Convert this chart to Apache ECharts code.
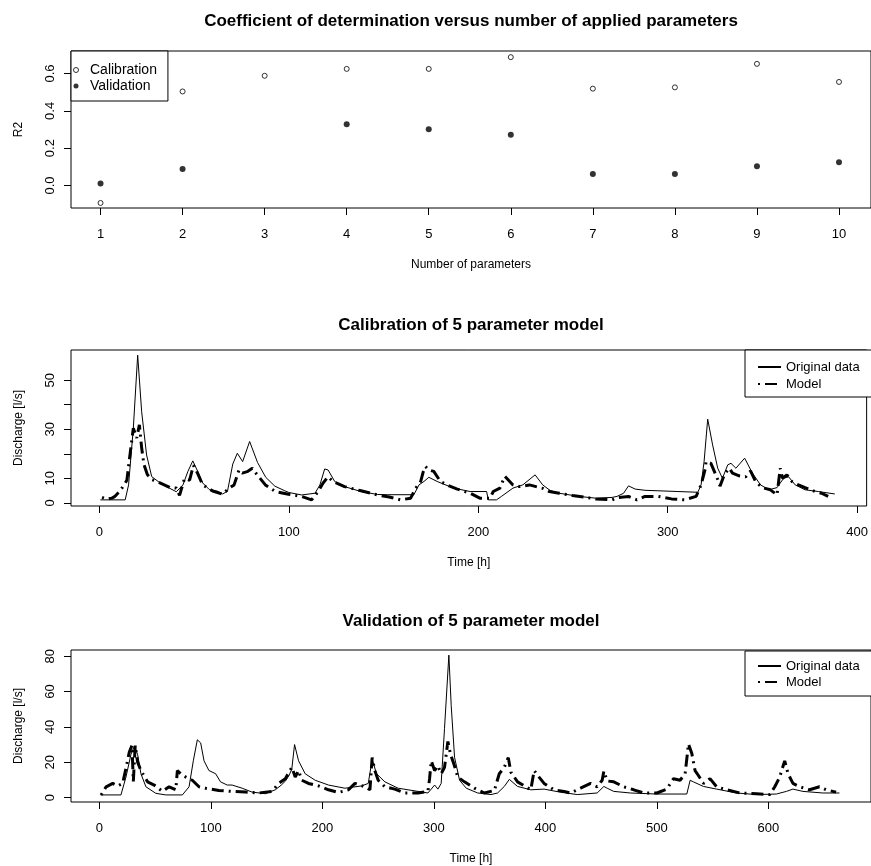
<!DOCTYPE html>
<html>
<head>
<meta charset="utf-8">
<script src="https://cdn.jsdelivr.net/npm/echarts@6/dist/echarts.min.js"></script>
<style>
html,body{margin:0;padding:0;background:#fff;}
#chart{width:871px;height:866px;}
</style>
</head>
<body>
<div id="chart"></div>
<script>
// ---- Panel 1: R2 versus number of parameters ----
var paramCounts = [1,2,3,4,5,6,7,8,9,10];
var r2Calibration = [-0.094,0.504,0.588,0.625,0.625,0.688,0.519,0.526,0.652,0.555];
var r2Validation  = [0.011,0.088,null,0.328,0.301,0.272,0.061,0.061,0.103,0.124];
var r2Ticks = [0.0,0.2,0.4,0.6];

// ---- Panel 2: calibration of 5 parameter model ([time h, discharge l/s]) ----
var calOriginal = [[0.5,1.2],[13.6,1.2],[15.4,7.3],[17.9,30.4],[20.2,60.2],[22.3,37.1],[24.9,19.5],[27.6,10.7],[31.0,8.7],[35.4,6.6],[40.6,4.5],[44.1,7.3],[46.7,12.8],[49.3,17.1],[51.9,12.8],[54.5,8.1],[58.0,5.4],[62.4,4.7],[65.0,3.6],[67.6,4.7],[70.4,15.8],[72.8,20.2],[75.6,16.8],[79.3,25.0],[83.5,16.4],[87.8,10.4],[92.6,6.8],[97.6,5.0],[100,4.2],[106.8,3.2],[113.8,3.9],[116.4,7.3],[118.9,13.8],[120.7,13.4],[124.2,8.7],[129.4,6.6],[138.1,4.6],[146.8,3.4],[152,3.3],[166,3.3],[168.7,7.3],[171.3,8.7],[173.9,10.4],[178.3,8.7],[186.9,6.0],[195.7,4.6],[204.4,4.6],[205.3,1.2],[209.6,1.2],[212.2,2.6],[218.3,6.0],[223.5,7.3],[230,11.4],[234,7.3],[238,5.0],[242.7,3.9],[253.2,2.6],[261.9,1.9],[270.6,2.2],[273.2,2.6],[276.7,3.9],[279.3,6.9],[282.8,5.6],[288,5.1],[305.4,4.6],[315.9,4.3],[317.6,7.3],[319.2,16.8],[321.1,34.1],[323.7,23.6],[326.4,14.1],[328.9,10.0],[331.7,15.5],[333.4,16.1],[336,14.1],[340.6,18.2],[344.7,12.1],[349,7.3],[353.4,5.3],[357.7,6.2],[361.2,10.0],[363.8,10.6],[367.3,7.3],[372.5,5.3],[379.5,4.6],[388.2,3.6]];
var calModel = [[1.4,2.2],[4,1.5],[6.6,1.9],[8,2.5],[11,4.9],[14.5,9.2],[15.8,17.5],[17.9,30.4],[19.7,26.4],[21.1,31.8],[22.3,22.4],[23.5,15.6],[25.3,11.5],[27.6,9.5],[31,8.5],[37.1,6.3],[40.6,6.0],[42.3,3.0],[44.9,9.9],[47.6,9.2],[49.6,15.3],[51.9,11.9],[54.5,7.3],[59.8,4.8],[65,3.5],[68.5,6.0],[71.1,7.3],[73.7,13.4],[75.4,12.1],[78,12.7],[80.7,14.1],[83.3,11.4],[87.6,7.3],[92.9,4.6],[99.8,3.5],[106.8,2.6],[112,1.2],[115.5,4.6],[118,8.0],[120.7,10.6],[123.3,8.7],[129.4,6.6],[138.1,4.9],[146.8,3.2],[153,2.4],[159.1,1.2],[164.3,1.9],[167,6.0],[169.6,8.7],[171,12.8],[172.1,14.8],[173.9,13.4],[176.5,12.8],[180,8.7],[183.4,7.3],[188.6,5.7],[195.7,3.9],[200.8,1.9],[206.2,1.9],[207.9,4.6],[211.4,6.0],[214,10.8],[216.6,8.7],[218.3,7.3],[221.8,6.6],[227,7.3],[230.5,6.6],[234,5.9],[237.5,4.6],[242.7,3.9],[249.7,3.0],[261.9,1.6],[270.6,1.2],[274.1,2.2],[279.3,2.6],[283.7,1.2],[288,2.6],[295,2.6],[302,1.6],[308.9,1.2],[315,2.6],[317.6,7.3],[319.9,14.1],[320.2,16.8],[322.8,16.1],[324.6,12.8],[326.4,9.5],[327.6,6.8],[329.9,11.5],[332.5,14.1],[334.2,12.1],[337.7,11.0],[341.2,10.6],[343.7,13.0],[346.4,8.7],[349.9,6.2],[354.2,5.3],[357.7,3.2],[359.4,14.1],[360.6,10.0],[362.9,11.4],[365.5,8.7],[369,7.3],[372.5,6.2],[377.7,4.6],[381.2,3.9],[384.7,2.6]];
var calXTicks = [0,100,200,300,400];
var calYTicks = [0,10,20,30,40,50];
var calYLabels = [0,10,30,50];

// ---- Panel 3: validation of 5 parameter model ([time h, discharge l/s]) ----
var valOriginal = [[1,1.5],[19.3,1.5],[23.8,11.6],[28.3,24.5],[31.3,29.1],[34.2,24.5],[37.2,13.5],[41.7,6.1],[50.6,2.4],[59.5,1.5],[74.4,1.5],[80.4,6.1],[84.2,20.8],[87.8,32.7],[90.8,30.9],[93.8,20.8],[98.2,15.3],[104.2,13.5],[108.6,8.9],[114.6,7.1],[119,7.1],[128,5.3],[136.9,3.1],[148.8,2.2],[157.7,4.4],[163,7.0],[167,9.5],[170,12.5],[172.5,16.0],[175,30.0],[178.6,20.8],[184.5,13.5],[193.5,9.8],[205.4,7.1],[220.2,5.3],[235.1,6.6],[241.1,8.0],[244.6,21.7],[248.5,13.5],[256,8.9],[267.9,5.3],[285.7,3.5],[294.6,2.6],[297.6,4.8],[300.6,7.1],[303.6,4.8],[306.5,8.0],[309.5,39.2],[313.4,80.6],[315.5,52.0],[318.5,22.8],[323,9.8],[329,5.3],[339.3,2.6],[351.2,1.7],[357.1,2.6],[363.1,6.3],[367.6,10.3],[375,6.3],[386.9,4.4],[398.8,4.8],[413.7,3.0],[428.6,1.7],[446.4,2.6],[452.4,6.3],[455.4,5.3],[461.3,3.5],[476.2,2.6],[500,2.0],[526.8,2.0],[529.8,9.8],[532.7,8.9],[541.7,6.3],[553.6,4.8],[571.4,2.6],[589.3,1.7],[607.1,2.0],[616.1,3.5],[622,4.8],[631,3.5],[648.8,2.6],[663.7,2.6]];
var valModel = [[1.5,1.5],[6,6.1],[11.9,8.0],[16.4,6.6],[20.8,8.0],[23.8,16.6],[26.8,25.8],[29.2,29.5],[30.4,9.2],[32.1,29.5],[34.2,20.2],[37.2,15.3],[43.2,8.9],[49.1,7.1],[56.5,3.5],[62.5,6.1],[68.5,4.4],[69.9,15.3],[72.9,13.5],[77.4,11.6],[83.3,9.8],[89.3,6.1],[95.2,5.3],[107.1,4.0],[119,3.5],[131,3.1],[142.9,2.6],[154.8,3.5],[160.7,8.0],[166.7,10.7],[172.6,17.1],[175.6,11.6],[178.6,15.3],[181.5,9.8],[187.5,8.0],[196.4,6.6],[205.4,4.4],[214.3,2.9],[223.2,4.4],[229.2,8.0],[238.1,6.1],[242.6,4.4],[244.6,22.6],[247,15.3],[250,9.8],[256,6.1],[264.9,4.8],[273.8,2.6],[285.7,2.6],[294.6,3.5],[296.1,10.7],[297.6,20.8],[300.6,15.3],[303.6,18.0],[306.5,13.5],[309.5,17.1],[312.5,31.7],[314.9,24.5],[317.9,19.0],[321.4,11.6],[327.4,8.9],[336.3,5.3],[345.2,2.6],[354.2,4.0],[358.6,13.5],[363.1,17.1],[366.7,22.6],[369,14.4],[375,8.9],[382.4,6.1],[386.9,4.4],[389.9,15.3],[394.3,11.6],[398.8,8.0],[407.7,4.4],[416.7,3.5],[422.6,2.6],[431.5,5.3],[440.5,8.0],[446.4,6.1],[450.9,9.8],[452.4,15.0],[455.4,9.4],[461.3,8.9],[470.2,6.1],[479.2,4.4],[488.1,2.6],[500,2.6],[508.9,4.8],[514.9,10.7],[520.8,9.8],[525.3,13.5],[528.3,30.4],[531.3,24.9],[534.2,15.3],[537.2,12.5],[541.7,8.0],[547.6,10.7],[553.6,6.1],[562.5,4.4],[574.4,2.6],[589.3,2.2],[601.2,1.7],[605.7,6.1],[610.1,11.6],[614.6,20.8],[617.6,13.5],[622,8.0],[628,6.1],[636.9,4.4],[645.8,6.1],[651.8,4.4],[660.7,3.1]];
var valXTicks = [0,100,200,300,400,500,600];
var valYTicks = [0,20,40,60,80];

var titles = ['Coefficient of determination versus number of applied parameters','Calibration of 5 parameter model','Validation of 5 parameter model'];

var FONT = '"Liberation Sans", Arial, sans-serif';
var chart = echarts.init(document.getElementById('chart'), null, {renderer:'canvas'});

function xAx(idx, min, max, ticks, name){
  return {
    type:'value', gridIndex:idx, min:min, max:max,
    axisLine:{show:false, onZero:false},
    axisTick:{show:true, inside:false, length:7, lineStyle:{color:'#000'}, customValues:ticks},
    axisLabel:{color:'#000', fontFamily:FONT, fontSize:13, margin:20, customValues:ticks, showMinLabel:true, showMaxLabel:true},
    splitLine:{show:false},
    name:name, nameLocation:'middle', nameGap:51,
    nameTextStyle:{color:'#000', fontFamily:FONT, fontSize:12}
  };
}
function yAx(idx, min, max, ticks, labels, name, fmt){
  return {
    type:'value', gridIndex:idx, min:min, max:max,
    axisLine:{show:false, onZero:false},
    axisTick:{show:true, inside:false, length:7, lineStyle:{color:'#000'}, customValues:ticks},
    axisLabel:{color:'#000', fontFamily:FONT, fontSize:13, rotate:90, margin:14, customValues:labels, formatter:fmt},
    splitLine:{show:false},
    name:name, nameLocation:'middle', nameGap:46,
    nameTextStyle:{color:'#000', fontFamily:FONT, fontSize:12}
  };
}
var gridBox = {show:true, borderColor:'#000', borderWidth:1, backgroundColor:'transparent'};
var hiddenSymbol = {color:'rgba(0,0,0,0)', borderColor:'rgba(0,0,0,0)', borderWidth:0, opacity:0};

var option = {
  animation:false,
  backgroundColor:'#fff',
  textStyle:{fontFamily:FONT},
  title: titles.map(function(t,i){
    return {text:t, left:471, textAlign:'center', top:[13,317,613][i], padding:0,
      textStyle:{fontFamily:FONT, fontSize:17, fontWeight:'bold', color:'#000'}};
  }),
  grid:[
    Object.assign({left:71, right:-3, top:51, height:157}, gridBox),
    Object.assign({left:71, right:-3, top:350, height:156}, gridBox),
    Object.assign({left:71, right:-3, top:650, height:156}, gridBox)
  ],
  xAxis:[
    xAx(0, 0.64, 10.39, paramCounts, 'Number of parameters'),
    xAx(1, -15, 405, calXTicks, 'Time [h]'),
    xAx(2, -25.5, 692, valXTicks, 'Time [h]')
  ],
  yAxis:[
    yAx(0, -0.121, 0.721, r2Ticks, r2Ticks, 'R2', function(v){return v.toFixed(1);}),
    yAx(1, -1.3, 62.3, calYTicks, calYLabels, 'Discharge [l/s]'),
    yAx(2, -2.5, 83.5, valYTicks, valYTicks, 'Discharge [l/s]')
  ],
  legend:[
    {data:['Calibration','Validation'], orient:'vertical', left:71, top:51,
     padding:[12,11,8,2], itemGap:2, itemWidth:18, itemHeight:5,
     borderColor:'#000', borderWidth:1, backgroundColor:'#fff', borderRadius:0,
     itemStyle:{borderWidth:1},
     textStyle:{fontFamily:FONT, fontSize:14, color:'#000', lineHeight:12}},
    {data:['Original data','Model'], orient:'vertical', left:745, top:350,
     padding:[10,14,6,12], itemGap:3, itemWidth:23, itemHeight:14,
     borderColor:'#000', borderWidth:1, backgroundColor:'#fff', borderRadius:0,
     itemStyle:hiddenSymbol,
     textStyle:{fontFamily:FONT, fontSize:13, color:'#000', lineHeight:14}},
    {data:['Original data','Model'], orient:'vertical', left:745, top:651,
     padding:[8,14,7,12], itemGap:2, itemWidth:23, itemHeight:14,
     borderColor:'#000', borderWidth:1, backgroundColor:'#fff', borderRadius:0,
     itemStyle:hiddenSymbol,
     textStyle:{fontFamily:FONT, fontSize:13, color:'#000', lineHeight:14}}
  ],
  series:[
    {name:'Calibration', type:'scatter', xAxisIndex:0, yAxisIndex:0, symbol:'circle', symbolSize:5,
     itemStyle:{color:'#fff', borderColor:'#000', borderWidth:1},
     data: paramCounts.map(function(p,i){return [p, r2Calibration[i]];})},
    {name:'Validation', type:'scatter', xAxisIndex:0, yAxisIndex:0, symbol:'circle', symbolSize:6,
     itemStyle:{color:'#000'},
     data: paramCounts.map(function(p,i){return r2Validation[i]===null?null:[p, r2Validation[i]];}).filter(function(d){return d;})},
    {name:'Original data', type:'line', xAxisIndex:1, yAxisIndex:1, symbol:'none', showSymbol:false,
     lineStyle:{color:'#000', width:1}, itemStyle:{color:'#000'}, data:calOriginal, z:3},
    {name:'Model', type:'line', xAxisIndex:1, yAxisIndex:1, symbol:'none', showSymbol:false,
     lineStyle:{color:'#000', width:3, type:[2,5,12,5], cap:'butt'}, itemStyle:{color:'#000'}, data:calModel, z:2},
    {name:'Original data', type:'line', xAxisIndex:2, yAxisIndex:2, symbol:'none', showSymbol:false,
     lineStyle:{color:'#000', width:1}, itemStyle:{color:'#000'}, data:valOriginal, z:3},
    {name:'Model', type:'line', xAxisIndex:2, yAxisIndex:2, symbol:'none', showSymbol:false,
     lineStyle:{color:'#000', width:3, type:[2,5,12,5], cap:'butt'}, itemStyle:{color:'#000'}, data:valModel, z:2}
  ]
};
chart.setOption(option);
</script>
</body>
</html>
